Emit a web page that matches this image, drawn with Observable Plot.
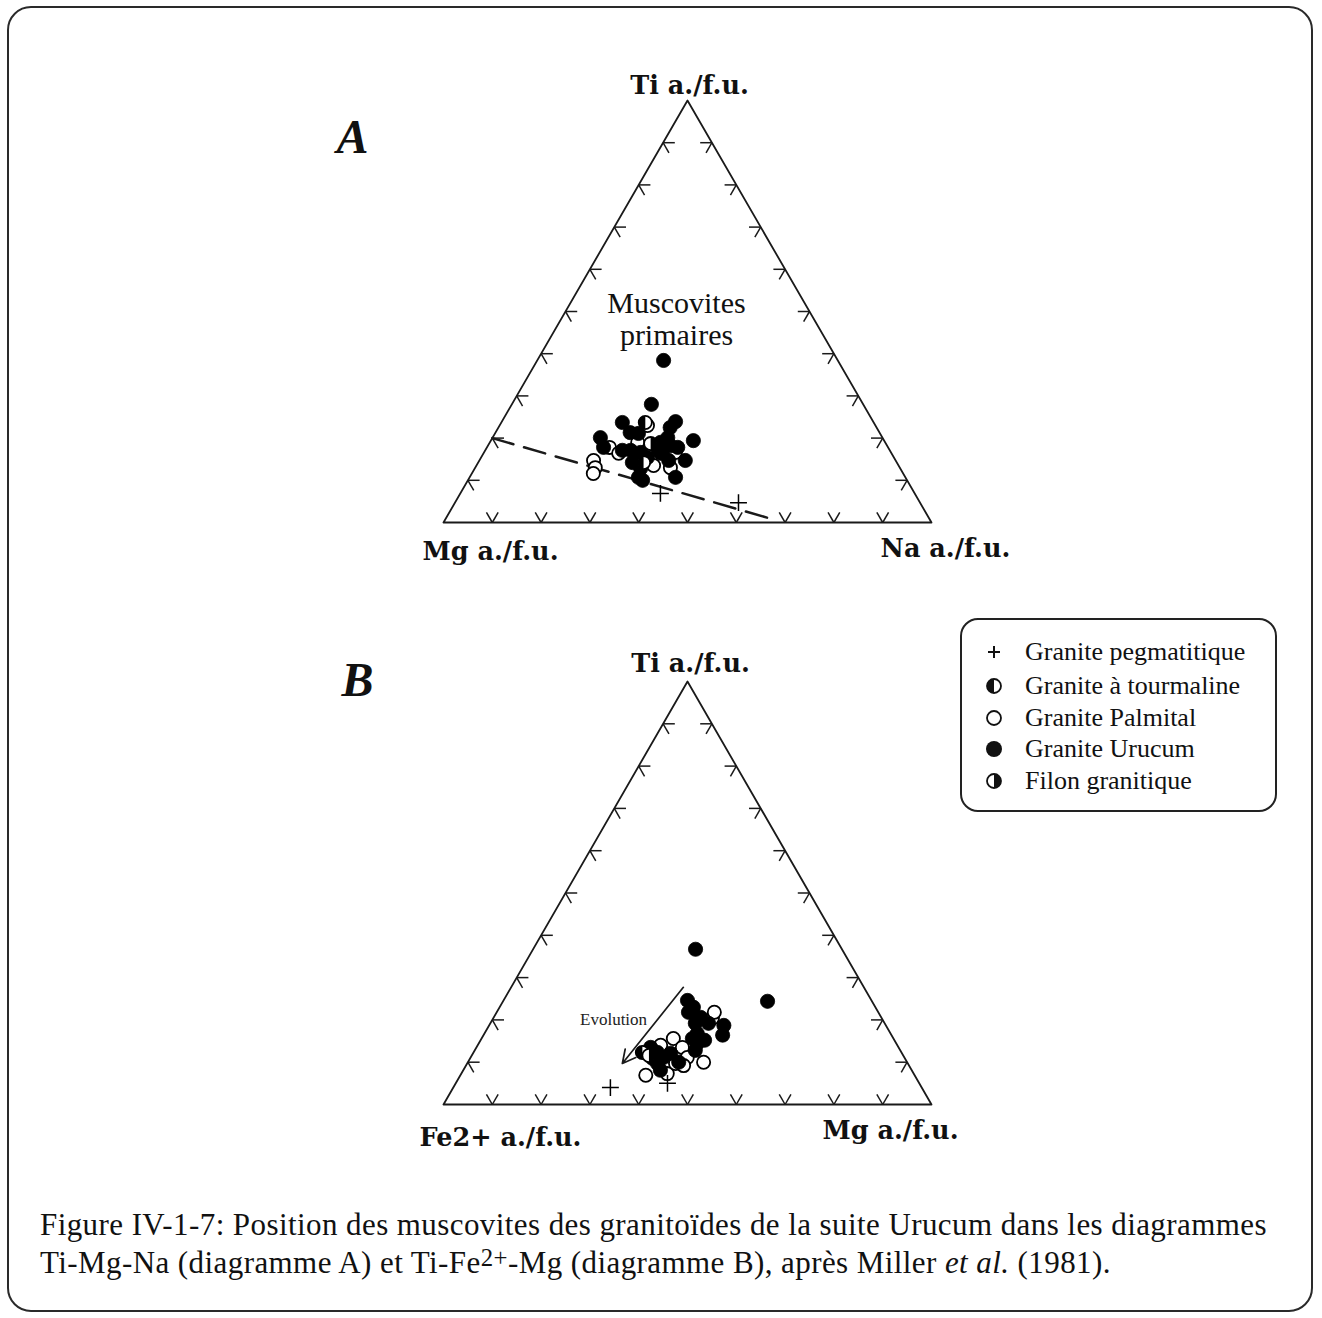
<!DOCTYPE html>
<html>
<head>
<meta charset="utf-8">
<script src="https://cdn.jsdelivr.net/npm/d3@7"></script>
<script src="https://cdn.jsdelivr.net/npm/@observablehq/plot@0.6"></script>
<style>
  html, body { margin: 0; padding: 0; background: #fff; }
  body { width: 1322px; height: 1318px; position: relative; overflow: hidden; font-family: "Liberation Serif", "Times New Roman", serif; color: #111; }
  #chartA { position: absolute; left: 0; top: 0; }
  #chartB { position: absolute; left: 0; top: 582px; }
  #frame { position: absolute; left: 7px; top: 6px; width: 1302px; height: 1302px; border: 2.5px solid #2a2a2a; border-radius: 24px; pointer-events: none; }
  #legend { position: absolute; left: 960px; top: 618px; width: 313px; height: 190px; border: 2px solid #222; border-radius: 18px; background: #fff; }
  .lrow { position: absolute; left: 0; height: 30px; font-size: 26px; white-space: nowrap; }
  .lrow svg { position: absolute; left: 23px; top: 6px; }
  .lrow span { position: absolute; left: 63px; top: 1px; line-height: 28px; }
  #caption { position: absolute; left: 40px; top: 1206px; font-size: 31px; letter-spacing: 0.42px; line-height: 38px; white-space: nowrap; color: #111; }
  #caption sup { font-size: 0.8em; line-height: 0; vertical-align: 0.3em; }
</style>
</head>
<body>
<div id="chartA"></div>
<div id="chartB"></div>
<div id="legend"></div>
<div id="caption">Figure IV-1-7: Position des muscovites des granitoïdes de la suite Urucum dans les diagrammes<br>Ti-Mg-Na (diagramme A) et Ti-Fe<sup>2+</sup>-Mg (diagramme B), après Miller <i>et al.</i> (1981).</div>
<div id="frame"></div>
<script>
// ---------------- DATA ----------------
const groupNames = ["Granite pegmatitique", "Granite à tourmaline", "Granite Palmital", "Granite Urucum", "Filon granitique"];
const groupCodes = ["P", "T", "O", "U", "F"];

// Diagram A : Ti - Mg - Na (percent of Ti+Mg+Na); Mg = 100 - Ti - Na
const A_vertexLabels = ["Ti a./f.u.", "Mg a./f.u.", "Na a./f.u."];
const A_group = ["U","U","U","T","O","U","U","U","U","O","U","U","O","U","O","U","U","F","U","U","U","U","O","U","U","U","O","U","O","U","U","U","U","U","U","O","O","O","P","P","U","T","U","U"];
const A_Ti    = [38.4,28.0,23.7,23.7,23.0,23.9,22.5,20.1,17.8,17.8,21.3,21.1,19.0,17.1,16.4,17.1,16.6,18.7,19.0,20.1,18.2,17.8,16.6,19.4,16.4,15.4,13.5,14.7,13.0,14.7,10.7,14.7,12.8,10.7,10.0,14.7,13.0,11.6,6.9,4.7,14.2,14.2,17.8,17.5];
const A_Na    = [25.9,28.6,24.8,29.5,30.3,35.6,35.2,22.1,23.9,25.1,27.6,29.4,30.3,28.1,27.7,29.8,32.1,33.1,35.0,35.9,37.4,39.1,39.2,41.5,36.3,34.1,36.3,38.8,40.0,42.2,42.2,32.6,34.0,34.6,35.8,23.4,24.6,24.9,41.0,58.1,31.6,33.9,36.2,35.1];
// dashed boundary line (Ti, Na)
const A_lineTi = [20, 0.5];
const A_lineNa = [0, 68];
// field label (Ti, Na)
const A_fieldLabel = "Muscovites\nprimaires";
const A_fieldTi = 48.3;
const A_fieldNa = 23.6;

// Diagram B : Ti - Fe2+ - Mg ; Fe2+ = 100 - Ti - Mg
const B_vertexLabels = ["Ti a./f.u.", "Fe2+ a./f.u.", "Mg a./f.u."];
const B_group = ["U","U","U","U","U","U","O","U","U","U","U","U","U","U","U","O","O","O","O","U","T","U","U","U","U","U","U","O","O","O","O","U","P","P","U","O","O","F"];
const B_Ti    = [36.7,24.4,24.6,23.0,21.8,20.6,20.4,19.2,19.2,18.7,16.4,16.8,15.6,14.5,12.8,15.6,13.5,11.1,10.0,13.5,12.3,12.3,11.1,12.1,10.0,9.7,8.1,7.3,6.9,9.7,9.2,10.9,4.0,5.0,15.2,21.8,14.0,11.6];
const B_Mg    = [33.3,54.2,37.7,39.7,39.3,42.4,44.9,44.7,42.0,48.1,49.0,43.6,43.2,44.8,45.2,39.3,42.2,44.4,48.3,35.7,34.6,37.7,39.5,40.5,43.2,39.0,40.4,42.2,38.0,42.7,44.6,37.4,32.2,43.4,45.9,44.6,37.5,36.3];
// evolution arrow (Ti, Mg) from -> to
const B_arrowTi = [27.7, 9.7];
const B_arrowMg = [35.3, 31.8];
const B_arrowLabel = "Evolution";
const B_arrowLabelTi = 20.1;
const B_arrowLabelMg = 24.8;

// ---------------- HELPERS ----------------
const H = Math.sqrt(3) / 2;
const tern = (ti, right) => ({x: right / 100 + ti / 200, y: (ti / 100) * H});
const tickFractions = d3.range(1, 10).map(i => i / 10);

// custom half-circle symbols
const halfLeft = {draw(ctx, size) { const r = Math.sqrt(size / Math.PI); ctx.moveTo(0, -r); ctx.arc(0, 0, r, -Math.PI / 2, Math.PI / 2, true); ctx.closePath(); }};
const halfRight = {draw(ctx, size) { const r = Math.sqrt(size / Math.PI); ctx.moveTo(0, -r); ctx.arc(0, 0, r, -Math.PI / 2, Math.PI / 2, false); ctx.closePath(); }};

function tickArms() {
  const L = 0.024, arms = [];
  const dirs = (nx, ny) => { // rotate inward normal by +-30deg
    const c = Math.cos(Math.PI / 6), s = Math.sin(Math.PI / 6);
    return [[nx * c - ny * s, nx * s + ny * c], [nx * c + ny * s, -nx * s + ny * c]];
  };
  for (const f of tickFractions) {
    for (const [dx, dy] of dirs(0, 1)) arms.push({x1: f, y1: 0, x2: f + L * dx, y2: L * dy});
    const lx = f / 2, ly = f * H;
    for (const [dx, dy] of dirs(H, -0.5)) arms.push({x1: lx, y1: ly, x2: lx + L * dx, y2: ly + L * dy});
    const rx = 1 - f / 2, ry = f * H;
    for (const [dx, dy] of dirs(-H, -0.5)) arms.push({x1: rx, y1: ry, x2: rx + L * dx, y2: ry + L * dy});
  }
  return arms;
}

function pointMarks(groups, tis, rights) {
  const pts = groups.map((g, i) => ({g, ...tern(tis[i], rights[i])}));
  const sel = c => pts.filter(d => d.g === c);
  const R = 6.6;
  return [
    Plot.dot(sel("O"), {x: "x", y: "y", r: R, fill: "white", stroke: "black", strokeWidth: 1.8}),
    Plot.dot(sel("U"), {x: "x", y: "y", r: R + 0.5, fill: "black", stroke: "black", strokeWidth: 0.8}),
    Plot.dot(sel("T"), {x: "x", y: "y", r: R, fill: "white", stroke: "black", strokeWidth: 1.8}),
    Plot.dot(sel("T"), {x: "x", y: "y", r: R, symbol: halfLeft, fill: "black", stroke: "none"}),
    Plot.dot(sel("F"), {x: "x", y: "y", r: R, fill: "white", stroke: "black", strokeWidth: 1.8}),
    Plot.dot(sel("F"), {x: "x", y: "y", r: R, symbol: halfRight, fill: "black", stroke: "none"}),
    Plot.dot(sel("P"), {x: "x", y: "y", r: 5.5, symbol: "plus", stroke: "black", strokeWidth: 1.5})
  ];
}

const frameMarks = () => [
  Plot.line([{x: 0, y: 0}, {x: 1, y: 0}, {x: 0.5, y: H}, {x: 0, y: 0}], {x: "x", y: "y", stroke: "#1a1a1a", strokeWidth: 1.8}),
  Plot.link(tickArms(), {x1: "x1", y1: "y1", x2: "x2", y2: "y2", stroke: "#1a1a1a", strokeWidth: 1.5})
];

const labelFont = {fontFamily: "DejaVu Serif", fontWeight: "bold", fontSize: 25.5, fill: "#111"};
const letterFont = {fontFamily: "Liberation Serif", fontWeight: "bold", fontStyle: "italic", fontSize: 48, fill: "#111"};

function vertexLabelMarks(labels, offs) {
  const verts = [{x: 0.5, y: H}, {x: 0, y: 0}, {x: 1, y: 0}];
  return labels.map((t, i) => Plot.text([verts[i]], {x: "x", y: "y", text: () => t, textAnchor: "middle", lineAnchor: "middle", dx: offs[i][0], dy: offs[i][1], ...labelFont}));
}

function baseOptions(height, mTop, mBottom) {
  return {
    width: 1322, height, marginTop: mTop, marginBottom: mBottom, marginLeft: 443, marginRight: 391,
    x: {domain: [0, 1], axis: null}, y: {domain: [0, H], axis: null},
    style: {background: "transparent", overflow: "visible"}
  };
}

// ---------------- CHART A ----------------
const lineA = A_lineTi.map((t, i) => tern(t, A_lineNa[i]));
const chartA = Plot.plot({
  ...baseOptions(582, 100, 60),
  marks: [
    ...frameMarks(),
    Plot.line(lineA, {x: "x", y: "y", stroke: "#1a1a1a", strokeWidth: 2.5, strokeDasharray: "22,11"}),
    ...pointMarks(A_group, A_Ti, A_Na),
    Plot.text([tern(A_fieldTi, A_fieldNa)], {x: "x", y: "y", text: () => A_fieldLabel, textAnchor: "middle", lineAnchor: "middle", lineHeight: 1.05, fontFamily: "Liberation Serif", fontSize: 30, fill: "#111"}),
    ...vertexLabelMarks(A_vertexLabels, [[2, -15], [47, 29], [14, 26]]),
    Plot.text(["A"], {frameAnchor: "top-left", text: d => d, dx: -91, dy: 37, textAnchor: "middle", lineAnchor: "middle", ...letterFont})
  ]
});
document.getElementById("chartA").appendChild(chartA);

// ---------------- CHART B ----------------
const arrB = tern(B_arrowTi[0], B_arrowMg[0]);
const arrE = tern(B_arrowTi[1], B_arrowMg[1]);
const chartB = Plot.plot({
  ...baseOptions(600, 99, 78),
  marks: [
    ...frameMarks(),
    Plot.arrow([{x1: arrB.x, y1: arrB.y, x2: arrE.x, y2: arrE.y}], {x1: "x1", y1: "y1", x2: "x2", y2: "y2", stroke: "#1a1a1a", strokeWidth: 1.7, headLength: 13, headAngle: 55}),
    Plot.text([tern(B_arrowLabelTi, B_arrowLabelMg)], {x: "x", y: "y", text: () => B_arrowLabel, textAnchor: "middle", lineAnchor: "middle", fontFamily: "Liberation Serif", fontSize: 17, fill: "#222"}),
    ...pointMarks(B_group, B_Ti, B_Mg),
    ...vertexLabelMarks(B_vertexLabels, [[3, -18], [57, 33], [-41, 26]]),
    Plot.text(["B"], {frameAnchor: "top-left", text: d => d, dx: -86, dy: -1, textAnchor: "middle", lineAnchor: "middle", ...letterFont})
  ]
});
document.getElementById("chartB").appendChild(chartB);

// ---------------- LEGEND ----------------
const legendSymbols = {
  P: '<line x1="3" y1="9" x2="15" y2="9" stroke="#111" stroke-width="2"/><line x1="9" y1="3" x2="9" y2="15" stroke="#111" stroke-width="2"/>',
  T: '<circle cx="9" cy="9" r="7" fill="#fff" stroke="#111" stroke-width="1.8"/><path d="M9,2 A7,7 0 0,0 9,16 Z" fill="#111"/>',
  O: '<circle cx="9" cy="9" r="7" fill="#fff" stroke="#111" stroke-width="1.8"/>',
  U: '<circle cx="9" cy="9" r="8" fill="#111"/>',
  F: '<circle cx="9" cy="9" r="7" fill="#fff" stroke="#111" stroke-width="1.8"/><path d="M9,2 A7,7 0 0,1 9,16 Z" fill="#111"/>'
};
const legendTops = [17, 51, 83, 114, 146];
const legend = document.getElementById("legend");
groupNames.forEach((name, i) => {
  const row = document.createElement("div");
  row.className = "lrow";
  row.style.top = legendTops[i] + "px";
  row.innerHTML = `<svg width="18" height="18" viewBox="0 0 18 18">${legendSymbols[groupCodes[i]]}</svg><span>${name}</span>`;
  legend.appendChild(row);
});
</script>
</body>
</html>
